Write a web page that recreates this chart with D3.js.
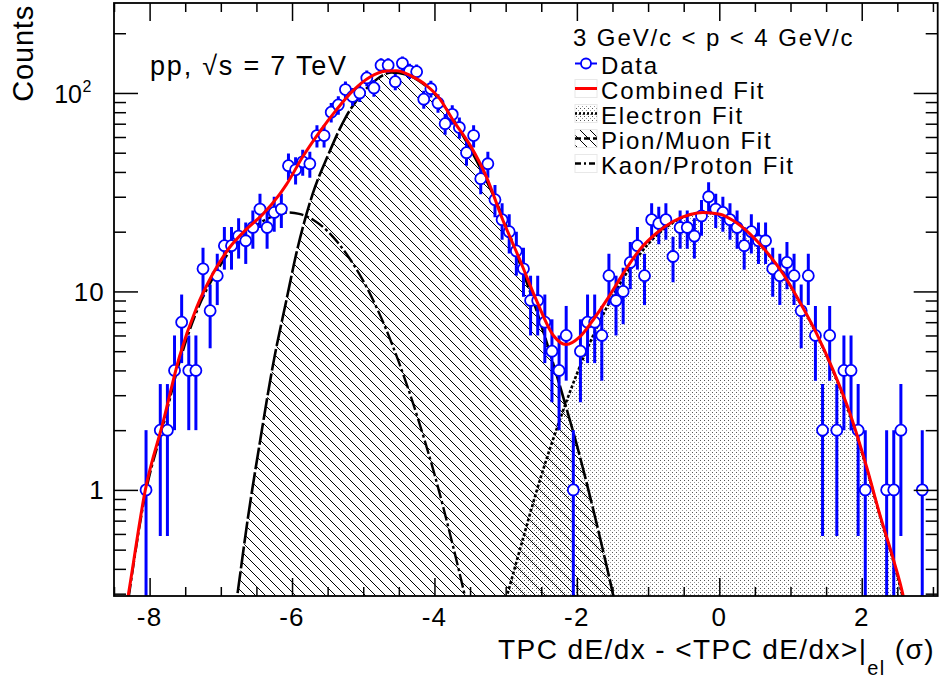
<!DOCTYPE html>
<html><head><meta charset="utf-8">
<script src="https://cdn.jsdelivr.net/npm/d3@7"></script>
<style>
body{margin:0;background:#fff}
text{font-family:"Liberation Sans",Arial,Helvetica,sans-serif;fill:#000}
</style>
</head><body>
<svg id="chart" width="942" height="682"></svg>
<script>
// ---------- data ----------
const binCenters = [-8.05,-7.85,-7.75,-7.65,-7.55,-7.45,-7.35,-7.25,-7.15,-7.05,-6.95,-6.85,-6.75,-6.65,-6.55,-6.45,-6.35,-6.25,-6.15,
  -6.05,-5.95,-5.85,-5.75,-5.65,-5.55,-5.45,-5.35,-5.25,-5.15,-5.05,-4.95,-4.85,-4.75,-4.65,-4.55,-4.45,-4.35,-4.25,-4.15,-4.05,
  -3.95,-3.85,-3.75,-3.65,-3.55,-3.45,-3.35,-3.25,-3.15,-3.05,-2.95,-2.85,-2.75,-2.65,-2.55,-2.45,-2.35,-2.25,-2.15,-2.05,
  -1.95,-1.85,-1.75,-1.65,-1.55,-1.45,-1.35,-1.25,-1.15,-1.05,-0.95,-0.85,-0.75,-0.65,-0.55,-0.45,-0.35,-0.25,-0.15,-0.05,
  0.05,0.15,0.25,0.35,0.45,0.55,0.65,0.75,0.85,0.95,1.05,1.15,1.25,1.35,1.45,1.55,1.65,1.75,1.85,1.95,2.05,2.35,2.45,2.55,2.85];
const counts = [1,2,2,4,7,4,4,13,8,12,17,17,19,18,21,26,21,25,26,
  43,41,45,44,61,61,80,87,104,96,100,119,106,138,138,114,141,129,128,93,105,
  89,70,78,67,50,61,37,44,29,23,20,16,13,9,9,7,5,4,6,1,
  5,7,7,6,12,9,10,14,17,12,23,22,23,15,21,21,19,24,30,26,
  25,23,21,17,20,18,18,13,12,14,12,8,12,6,2,6,2,4,4,2,1,1,1,2,1];

const combinedFitX = [-8.36,-8.30,-8.06,-7.81,-7.58,-7.34,-7.11,-6.88,-6.64,-6.41,-6.17,-6.08,-5.85,-5.61,-5.38,-5.14,-4.91,-4.67,-4.53,-4.35,-4.11,-3.93,-3.74,-3.50,-3.27,-3.04,-2.80,-2.57,-2.33,-2.15,-1.96,-1.77,-1.58,-1.35,-1.12,-0.88,-0.65,-0.41,-0.23,0.01,0.20,0.43,0.66,0.90,1.13,1.37,1.60,1.84,2.07,2.255,2.45,2.575,2.62];
const combinedFitY = [0.22,0.294,1.0,2.2,4.7,8.3,12.3,16.6,20.6,24.5,31,34.5,47.7,63.9,82,103,120,129,129.5,123,109,94,73,54.6,37.8,22.9,14.4,9.06,6.0,5.4,5.9,7.2,9.06,12.3,16.2,19.7,22.5,24.4,25.0,24.5,22.7,19.5,15.9,12.2,8.85,6.1,4.0,2.4,1.3,0.75,0.44,0.3,0.25];
const electronFitX = [-3.05,-2.98,-2.75,-2.5,-2.25,-2.0,-1.75,-1.5,-1.25,-1.0,-0.75,-0.5,-0.2,0.0,0.2,0.43,0.66,0.9,1.13,1.37,1.6,1.84,2.07,2.255,2.45,2.575,2.62];
const electronFitY = [0.24,0.294,0.58,1.18,2.2,3.84,6.24,9.4,13.2,17.3,21,23.7,25,24.4,22.6,19.4,15.8,12.1,8.8,6.05,3.95,2.35,1.28,0.74,0.43,0.29,0.25];
const pionFitX = [-6.86,-6.76,-6.62,-6.45,-6.25,-6.08,-5.94,-5.71,-5.5,-5.25,-5.0,-4.8,-4.6,-4.4,-4.2,-4.0,-3.8,-3.6,-3.4,-3.2,-3.0,-2.8,-2.6,-2.4,-2.2,-2.0,-1.8,-1.6,-1.49,-1.42];
const pionFitY = [0.17,0.31,0.72,1.75,4.6,9.0,15.5,31,48,75,101,118,127,124,114,99,80,61,45,32,21.8,13.8,8.7,5.2,3.0,1.68,0.88,0.44,0.294,0.22];
const kaonFitX = [-8.34,-8.06,-7.81,-7.58,-7.34,-7.11,-6.88,-6.64,-6.41,-6.2,-6.05,-5.9,-5.7,-5.5,-5.25,-5.0,-4.75,-4.5,-4.25,-4.0,-3.75,-3.57,-3.5];
const kaonFitY = [0.22,0.95,2.1,4.4,7.9,11.7,15.8,19.6,22.6,24.4,25,24.6,22.9,20.1,15.7,11.3,7.4,4.4,2.4,1.2,0.54,0.29,0.225];

const xMajorTicks = [-8,-6,-4,-2,0,2];
const xMinorTicks = [-8.5,-7.5,-7,-6.5,-5.5,-5,-4.5,-3.5,-3,-2.5,-1.5,-1,-0.5,0.5,1,1.5,2.5,3];
const yMajorTicks = [1,10,100];
const yMajorBase = ["1","10","10"];
const yMajorExp = ["","","2"];
const yMinorTicks = [0.3,0.4,0.5,0.6,0.7,0.8,0.9,2,3,4,5,6,7,8,9,20,30,40,50,60,70,80,90,200];
const legendHeader = "3 GeV/c < p < 4 GeV/c";
const legendLabels = ["Data","Combined Fit","Electron Fit","Pion/Muon Fit","Kaon/Proton Fit"];
const energyLabel = "pp, \u221As = 7 TeV";

// ---------- layout ----------
const L = 114, R = 937.7, T = 3, B = 596;
const x = d3.scaleLinear().domain([-8.5, 3.067]).range([L, R]);
const y = d3.scaleLog().domain([0.292, 284]).range([B, T]);
const svg = d3.select("#chart");

const defs = svg.append("defs");
defs.append("clipPath").attr("id","frame").append("rect")
  .attr("x",L).attr("y",T).attr("width",R-L).attr("height",B-T);
const dots = defs.append("pattern").attr("id","stipple").attr("patternUnits","userSpaceOnUse")
  .attr("width",4).attr("height",4);
dots.append("rect").attr("width",4).attr("height",4).attr("fill","#fff");
dots.append("rect").attr("x",0).attr("y",0).attr("width",1).attr("height",1).attr("fill","#555");
dots.append("rect").attr("x",2).attr("y",2).attr("width",1).attr("height",1).attr("fill","#999");
const hatch = defs.append("pattern").attr("id","hatch").attr("patternUnits","userSpaceOnUse")
  .attr("width",10).attr("height",10);
hatch.append("path").attr("d","M0,0L10,10M-5,5L5,15M5,-5L15,5")
  .attr("stroke","#000").attr("stroke-width",1).attr("fill","none");

const plot = svg.append("g").attr("clip-path","url(#frame)");
const zip = (xs, ys) => xs.map((v,i)=>[v, ys[i]]);
const area = d3.area().x(d=>x(d[0])).y0(B+5).y1(d=>y(d[1])).curve(d3.curveMonotoneX);
const line = d3.line().x(d=>x(d[0])).y(d=>y(d[1])).curve(d3.curveMonotoneX);

const eData = zip(electronFitX, electronFitY);
const pData = zip(pionFitX, pionFitY);
const kData = zip(kaonFitX, kaonFitY);
const cData = zip(combinedFitX, combinedFitY);

plot.append("path").attr("d", area(eData)).attr("fill","url(#stipple)");
plot.append("path").attr("d", area(pData)).attr("fill","url(#hatch)");
plot.append("path").attr("d", line(kData)).attr("fill","none").attr("stroke","#000")
  .attr("stroke-width",2.4).attr("stroke-dasharray","14,3,3,3");
plot.append("path").attr("d", line(pData)).attr("fill","none").attr("stroke","#000")
  .attr("stroke-width",2.6).attr("stroke-dasharray","22,3");
plot.append("path").attr("d", line(eData)).attr("fill","none").attr("stroke","#000")
  .attr("stroke-width",2.6).attr("stroke-dasharray","3,2");

// data points with sqrt(N) errors
const r = 5.5;
const pts = plot.append("g");
binCenters.forEach((c,i)=>{
  const n = counts[i], e = Math.sqrt(n);
  const cx = x(c), cy = y(n);
  const yHi = y(n+e);
  const yLo = (n-e) > 0 ? Math.min(y(n-e), B+5) : B+5;
  if (cy - r > yHi) pts.append("line").attr("x1",cx).attr("x2",cx).attr("y1",yHi).attr("y2",cy-r)
    .attr("stroke","#0000ff").attr("stroke-width",3);
  if (yLo > cy + r) pts.append("line").attr("x1",cx).attr("x2",cx).attr("y1",cy+r).attr("y2",yLo)
    .attr("stroke","#0000ff").attr("stroke-width",3);
  pts.append("circle").attr("cx",cx).attr("cy",cy).attr("r",r)
    .attr("fill","#fff").attr("stroke","#0000ff").attr("stroke-width",1.8);
});

plot.append("path").attr("d", line(cData)).attr("fill","none").attr("stroke","#ff0000").attr("stroke-width",3);

// ---------- axes ----------
function styleAxis(g){ g.select(".domain").remove(); g.selectAll(".tick line").attr("stroke","#000").attr("stroke-width",1.5); g.selectAll("text").remove(); }
svg.append("g").attr("transform",`translate(0,${B})`).call(d3.axisBottom(x).tickValues(xMajorTicks).tickSize(-18)).call(styleAxis);
svg.append("g").attr("transform",`translate(0,${B})`).call(d3.axisBottom(x).tickValues(xMinorTicks).tickSize(-9)).call(styleAxis);
svg.append("g").attr("transform",`translate(0,${T})`).call(d3.axisTop(x).tickValues(xMajorTicks).tickSize(-18)).call(styleAxis);
svg.append("g").attr("transform",`translate(0,${T})`).call(d3.axisTop(x).tickValues(xMinorTicks).tickSize(-9)).call(styleAxis);
svg.append("g").attr("transform",`translate(${L},0)`).call(d3.axisLeft(y).tickValues(yMajorTicks).tickSize(-24)).call(styleAxis);
svg.append("g").attr("transform",`translate(${L},0)`).call(d3.axisLeft(y).tickValues(yMinorTicks).tickSize(-12)).call(styleAxis);
svg.append("g").attr("transform",`translate(${R},0)`).call(d3.axisRight(y).tickValues(yMajorTicks).tickSize(-24)).call(styleAxis);
svg.append("g").attr("transform",`translate(${R},0)`).call(d3.axisRight(y).tickValues(yMinorTicks).tickSize(-12)).call(styleAxis);

svg.append("rect").attr("x",L).attr("y",T).attr("width",R-L).attr("height",B-T)
  .attr("fill","none").attr("stroke","#000").attr("stroke-width",1.8);

// tick labels
const LS = "1.2px";
xMajorTicks.forEach(v=>{
  svg.append("text").attr("x",x(v)).attr("y",626).attr("text-anchor","middle")
    .style("font-size","26px").style("letter-spacing",LS).text(v<0?"-"+Math.abs(v):String(v));
});
yMajorTicks.forEach((v,i)=>{
  if (yMajorExp[i]) {
    svg.append("text").attr("x",82).attr("y",y(v)+10).attr("text-anchor","end")
      .style("font-size","25px").text(yMajorBase[i]);
    svg.append("text").attr("x",82.5).attr("y",y(v)-1).attr("text-anchor","start")
      .style("font-size","16px").text(yMajorExp[i]);
  } else {
    svg.append("text").attr("x",105).attr("y",y(v)+9.5).attr("text-anchor","end")
      .style("font-size","26px").style("letter-spacing",LS).text(yMajorBase[i]);
  }
});

// axis titles
const xt = svg.append("text").attr("x",935).attr("y",659).attr("text-anchor","end")
  .style("font-size","28px").style("letter-spacing","1.4px");
xt.append("tspan").text("TPC dE/dx - <TPC dE/dx>|");
xt.append("tspan").attr("dy",16).style("font-size","20px").text("el");
xt.append("tspan").attr("dy",-16).text(" (\u03C3)");

svg.append("text").attr("transform","translate(33,5) rotate(-90)").attr("text-anchor","end")
  .style("font-size","29px").style("letter-spacing","0.8px").text("Counts");

svg.append("text").attr("x",150).attr("y",75).style("font-size","27px").style("letter-spacing","1.8px").text(energyLabel);

// legend
svg.append("text").attr("x",573).attr("y",46).style("font-size","24px").style("letter-spacing","1.9px").text(legendHeader);
const rowY = [63.5, 88.5, 113.5, 138.5, 163.5];
const sx0 = 575, sx1 = 597;
const fills = [null,"#fff","url(#stipple)","url(#hatch)","#fff"];
legendLabels.forEach((lab,i)=>{
  const cy = rowY[i];
  svg.append("text").attr("x",601).attr("y",cy+10).style("font-size","24px").style("letter-spacing","1.8px").text(lab);
  if (i===0) {
    svg.append("line").attr("x1",sx0).attr("x2",sx1).attr("y1",cy).attr("y2",cy).attr("stroke","#0000ff").attr("stroke-width",2);
    svg.append("circle").attr("cx",(sx0+sx1)/2).attr("cy",cy).attr("r",5).attr("fill","#fff").attr("stroke","#0000ff").attr("stroke-width",1.8);
    return;
  }
  svg.append("rect").attr("x",sx0).attr("y",cy-9).attr("width",sx1-sx0).attr("height",18)
    .attr("fill",fills[i]).attr("stroke","#e8e8e8").attr("stroke-width",1);
  const ln = svg.append("line").attr("x1",sx0).attr("x2",sx1).attr("y1",cy).attr("y2",cy);
  if (i===1) ln.attr("stroke","#ff0000").attr("stroke-width",3);
  if (i===2) ln.attr("stroke","#000").attr("stroke-width",2.4).attr("stroke-dasharray","2,2");
  if (i===3) ln.attr("stroke","#000").attr("stroke-width",2.4).attr("stroke-dasharray","6,3");
  if (i===4) ln.attr("stroke","#000").attr("stroke-width",2.4).attr("stroke-dasharray","6,3,2,3");
});
</script>
</body></html>
